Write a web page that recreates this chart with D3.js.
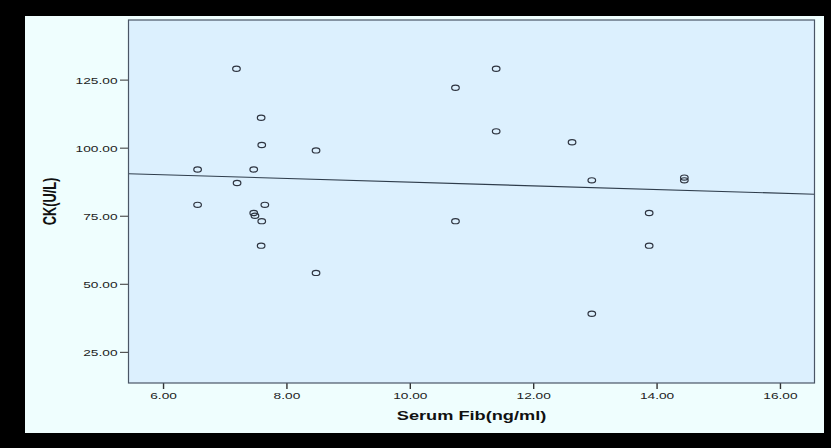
<!DOCTYPE html>
<html>
<head>
<meta charset="utf-8">
<script src="https://cdn.jsdelivr.net/npm/d3@7"></script>
<style>
  html, body { margin: 0; padding: 0; background: #000; }
  svg { display: block; }
  text { font-family: "Liberation Sans", Arial, sans-serif; }
</style>
</head>
<body>
<svg id="chart" width="831" height="448"></svg>
<script>
// ---- data ----
const serumFib = [7.19, 7.59, 7.60, 8.48, 6.56, 7.47, 7.20, 6.56, 7.65, 7.47, 7.49, 7.60, 7.59, 8.48,
                  11.40, 10.74, 11.40, 12.63, 12.95, 14.45, 14.45, 13.88, 10.74, 13.88, 12.95];
const ckValues = [129, 111, 101, 99, 92, 92, 87, 79, 79, 76, 75, 73, 64, 54,
                  129, 122, 106, 102, 88, 89, 88, 76, 73, 64, 39];
const xTickValues = [6, 8, 10, 12, 14, 16];
const yTickValues = [25, 50, 75, 100, 125];
const xTitle = "Serum Fib(ng/ml)";
const yTitle = "CK(U/L)";

// ---- layout ----
const W = 831, H = 448;
const panel = { x0: 25, y0: 16, x1: 824, y1: 433 };
const plot = { left: 128.5, right: 814.5, top: 20, bottom: 383 };
const SX = 1.4; // horizontal stretch of the original picture

const svg = d3.select("#chart");
svg.append("rect").attr("x", 0).attr("y", 0).attr("width", W).attr("height", H).attr("fill", "#000");
svg.append("rect").attr("x", panel.x0).attr("y", panel.y0)
  .attr("width", panel.x1 - panel.x0).attr("height", panel.y1 - panel.y0).attr("fill", "#effefe");

const x = d3.scaleLinear().domain([5.44, 16.56]).range([plot.left, plot.right]);
const y = d3.scaleLinear().domain([13.55, 146.9]).range([plot.bottom, plot.top]);

// plot background
svg.append("rect").attr("x", plot.left).attr("y", plot.top)
  .attr("width", plot.right - plot.left).attr("height", plot.bottom - plot.top)
  .attr("fill", "#dcf0fe");

const fmt = d3.format(".2f");

// x axis
const gx = svg.append("g").attr("transform", `translate(0,${plot.bottom})`)
  .call(d3.axisBottom(x).tickValues(xTickValues).tickFormat(fmt).tickSize(6).tickPadding(3));
gx.select(".domain").remove();
gx.selectAll(".tick line").attr("stroke", "#333").attr("stroke-width", 1.4);
gx.selectAll(".tick text").attr("fill", "#222").attr("font-size", 9.8)
  .attr("font-family", "Liberation Sans, Arial, sans-serif")
  .attr("y", 8.8).attr("dy", "0.71em")
  .attr("transform", `scale(${SX},1)`);

// y axis
const gy = svg.append("g").attr("transform", `translate(${plot.left},0)`)
  .call(d3.axisLeft(y).tickValues(yTickValues).tickFormat(fmt).tickSize(8.5).tickPadding(2));
gy.select(".domain").remove();
gy.selectAll(".tick line").attr("stroke", "#333").attr("stroke-width", 1);
gy.selectAll(".tick text").attr("fill", "#222").attr("font-size", 9.8)
  .attr("font-family", "Liberation Sans, Arial, sans-serif")
  .attr("x", -11 / SX).attr("dy", "0.35em")
  .attr("transform", `scale(${SX},1)`);

// regression line (least squares from the data)
const mx = d3.mean(serumFib), my = d3.mean(ckValues);
let sxy = 0, sxx = 0;
serumFib.forEach((v, i) => { sxy += (v - mx) * (ckValues[i] - my); sxx += (v - mx) * (v - mx); });
const b = sxy / sxx, a = my - b * mx;
const [dx0, dx1] = x.domain();
svg.append("line")
  .attr("x1", x(dx0)).attr("y1", y(a + b * dx0))
  .attr("x2", x(dx1)).attr("y2", y(a + b * dx1))
  .attr("stroke", "#2f3d4c").attr("stroke-width", 1.1);

// points
svg.append("g").selectAll("ellipse")
  .data(serumFib.map((v, i) => ({ fx: v, ck: ckValues[i] })))
  .join("ellipse")
  .attr("cx", d => x(d.fx)).attr("cy", d => y(d.ck))
  .attr("rx", 3.8).attr("ry", 2.6)
  .attr("fill", "none").attr("stroke", "#2e3440").attr("stroke-width", 1.2);

// frame
svg.append("rect").attr("x", plot.left).attr("y", plot.top)
  .attr("width", plot.right - plot.left).attr("height", plot.bottom - plot.top)
  .attr("fill", "none").attr("stroke", "#4a5666").attr("stroke-width", 1.2);

// axis titles
const cx = (plot.left + plot.right) / 2;
svg.append("text")
  .attr("transform", `translate(${cx},420) scale(${SX},1)`)
  .attr("text-anchor", "middle").attr("font-weight", "bold").attr("font-size", 13)
  .attr("fill", "#111").text(xTitle);

const cy = (plot.top + plot.bottom) / 2;
svg.append("text")
  .attr("transform", `translate(56,${cy}) scale(${SX},1) rotate(-90)`)
  .attr("text-anchor", "middle").attr("font-weight", "bold").attr("font-size", 12.8)
  .attr("fill", "#111").text(yTitle);
</script>
</body>
</html>
